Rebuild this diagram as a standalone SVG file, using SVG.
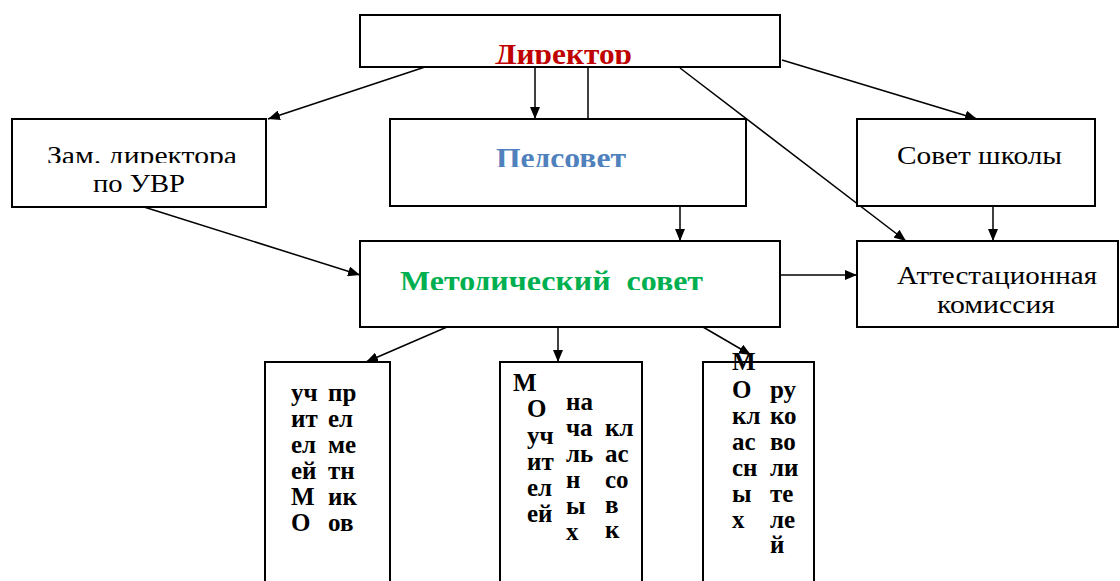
<svg xmlns="http://www.w3.org/2000/svg" width="1120" height="581" viewBox="0 0 1120 581">
<style>
.box{fill:#fff;stroke:#000;stroke-width:2}
.ln{fill:none;stroke:#000;stroke-width:1.5}
.hd{font-family:'Liberation Serif',Tinos,'Times New Roman',Times,'DejaVu Serif',serif;font-weight:bold;font-size:30px}
.rg{font-family:'Liberation Serif',Tinos,'Times New Roman',Times,'DejaVu Serif',serif;font-size:26px;fill:#000}
.sm{font-family:'Liberation Serif',Tinos,'Times New Roman',Times,'DejaVu Serif',serif;font-weight:bold;font-size:25px;fill:#000}
</style>
<defs>
<marker id="ah" markerUnits="userSpaceOnUse" markerWidth="12" markerHeight="10" refX="12" refY="5" orient="auto">
<path d="M0,0 L12,5 L0,10 z" fill="#000"/>
</marker>
<clipPath id="cDir"><rect x="360" y="15" width="420" height="49"/></clipPath>
<clipPath id="cPed"><rect x="390" y="119" width="356" height="48"/></clipPath>
<clipPath id="cMet"><rect x="360" y="241" width="420" height="49"/></clipPath>
<clipPath id="cZam"><rect x="12" y="119" width="254" height="44"/></clipPath>
</defs>
<g id="connectors">
<line class="ln" x1="425" y1="67" x2="268" y2="119" marker-end="url(#ah)"/>
<line class="ln" x1="535" y1="68" x2="535" y2="119" marker-end="url(#ah)"/>
<line class="ln" x1="588" y1="68" x2="588" y2="119"/>
<line class="ln" x1="782" y1="60" x2="977" y2="119" marker-end="url(#ah)"/>
<line class="ln" x1="680" y1="68" x2="906" y2="241" marker-end="url(#ah)"/>
<line class="ln" x1="993" y1="206" x2="993" y2="241" marker-end="url(#ah)"/>
<line class="ln" x1="780" y1="275" x2="857" y2="275" marker-end="url(#ah)"/>
<line class="ln" x1="144" y1="207" x2="360" y2="275" marker-end="url(#ah)"/>
<line class="ln" x1="680" y1="206" x2="680" y2="241" marker-end="url(#ah)"/>
<line class="ln" x1="447" y1="327" x2="366" y2="362" marker-end="url(#ah)"/>
<line class="ln" x1="558" y1="327" x2="558" y2="362" marker-end="url(#ah)"/>
<line class="ln" x1="703" y1="327" x2="751" y2="355" marker-end="url(#ah)"/>
</g>
<g id="director">
<rect class="box" x="360" y="15" width="420" height="52"/>
<text class="hd" fill="#c00000" x="495" y="64" textLength="137" lengthAdjust="spacingAndGlyphs" clip-path="url(#cDir)">Директор</text>
</g>
<g id="zam">
<rect class="box" x="12" y="119" width="254" height="88"/>
<text class="rg" x="47" y="164" textLength="190" lengthAdjust="spacingAndGlyphs" clip-path="url(#cZam)">Зам. директора</text>
<text class="rg" x="93" y="192" textLength="92" lengthAdjust="spacingAndGlyphs">по УВР</text>
</g>
<g id="pedsovet">
<rect class="box" x="390" y="119" width="356" height="87"/>
<text class="hd" fill="#4f81bd" x="496" y="168" textLength="130" lengthAdjust="spacingAndGlyphs" clip-path="url(#cPed)">Педсовет</text>
</g>
<g id="sovet">
<rect class="box" x="857" y="119" width="238" height="87"/>
<text class="rg" x="897" y="164" textLength="165" lengthAdjust="spacingAndGlyphs">Совет школы</text>
</g>
<g id="metod">
<rect class="box" x="360" y="241" width="420" height="86"/>
<text class="hd" fill="#00b050" x="400" y="291" textLength="303" lengthAdjust="spacingAndGlyphs" clip-path="url(#cMet)" xml:space="preserve">Методический  совет</text>
</g>
<g id="attest">
<rect class="box" x="857" y="241" width="261" height="86"/>
<text class="rg" x="897" y="284" textLength="200" lengthAdjust="spacingAndGlyphs">Аттестационная</text>
<text class="rg" x="937" y="313" textLength="118" lengthAdjust="spacingAndGlyphs">комиссия</text>
</g>
<g id="mo1">
<rect class="box" x="265" y="362" width="125" height="240"/>
<text class="sm"><tspan x="291" y="401">уч</tspan><tspan x="291" y="427">ит</tspan><tspan x="291" y="453">ел</tspan><tspan x="291" y="479">ей</tspan><tspan x="291" y="505">М</tspan><tspan x="291" y="531">О</tspan></text>
<text class="sm"><tspan x="328" y="401">пр</tspan><tspan x="328" y="427">ел</tspan><tspan x="328" y="453">ме</tspan><tspan x="328" y="479">тн</tspan><tspan x="328" y="505">ик</tspan><tspan x="328" y="531">ов</tspan></text>
</g>
<g id="mo2">
<rect class="box" x="500" y="362" width="142" height="240"/>
<text class="sm"><tspan x="513" y="391">М</tspan><tspan x="527" y="417">О</tspan><tspan x="527" y="444">уч</tspan><tspan x="527" y="470">ит</tspan><tspan x="527" y="496">ел</tspan><tspan x="527" y="522">ей</tspan></text>
<text class="sm"><tspan x="566" y="410">на</tspan><tspan x="566" y="436">ча</tspan><tspan x="566" y="462">ль</tspan><tspan x="566" y="488">н</tspan><tspan x="566" y="514">ы</tspan><tspan x="566" y="540">х</tspan></text>
<text class="sm"><tspan x="605" y="436">кл</tspan><tspan x="605" y="462">ас</tspan><tspan x="605" y="488">со</tspan><tspan x="605" y="513">в</tspan><tspan x="605" y="538">к</tspan></text>
</g>
<g id="mo3">
<rect class="box" x="703" y="362" width="111" height="240"/>
<text class="sm"><tspan x="732" y="370">М</tspan><tspan x="732" y="398">О</tspan><tspan x="732" y="424">кл</tspan><tspan x="732" y="450">ас</tspan><tspan x="732" y="476">сн</tspan><tspan x="732" y="502">ы</tspan><tspan x="732" y="528">х</tspan></text>
<text class="sm"><tspan x="770" y="398">ру</tspan><tspan x="770" y="424">ко</tspan><tspan x="770" y="450">во</tspan><tspan x="770" y="476">ли</tspan><tspan x="770" y="502">те</tspan><tspan x="770" y="528">ле</tspan><tspan x="770" y="553">й</tspan></text>
</g>
</svg>
